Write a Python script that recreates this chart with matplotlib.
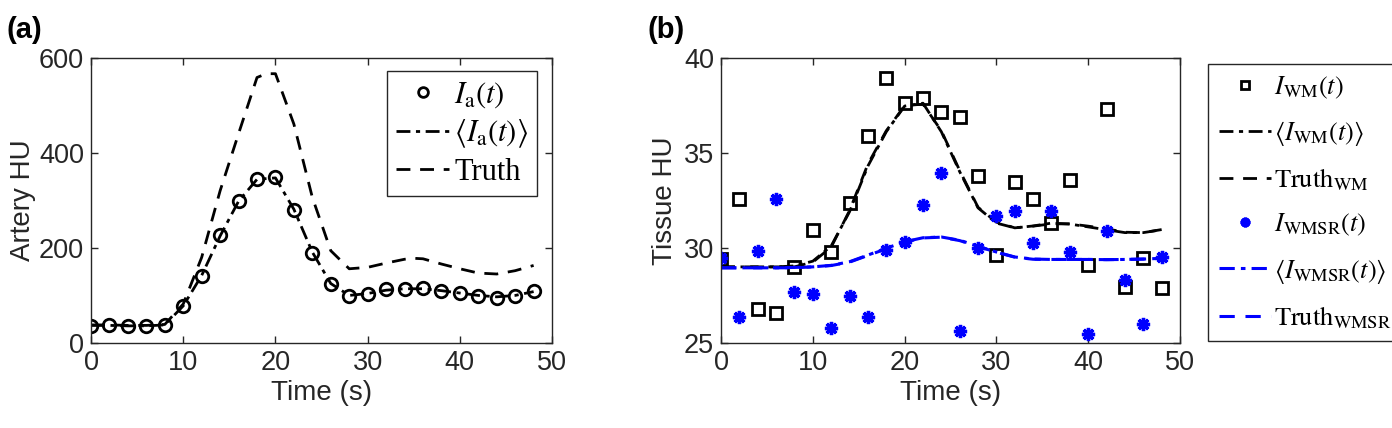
import matplotlib
matplotlib.use("Agg")
import matplotlib.pyplot as plt
import numpy as np

plt.rcParams['font.family'] = ['Liberation Sans', 'DejaVu Sans']
plt.rcParams['mathtext.fontset'] = 'stix'

# ---------------- data ----------------
t = [0, 2, 4, 6, 8, 10, 12, 14, 16, 18, 20, 22, 24, 26, 28, 30, 32, 34, 36, 38, 40, 42, 44, 46, 48]

artery_obs = [36, 38, 35, 36, 38, 78, 140, 226, 299, 345, 348, 280, 190, 124, 98, 103, 113, 113, 116, 109, 106, 99, 95, 99, 110]
artery_mean = [37, 37, 36, 36, 38, 78, 142, 225, 298, 344, 347, 281, 191, 125, 100, 104, 111, 114, 114, 110, 105, 100, 97, 100, 108]
artery_truth_t = [0, 2, 4, 6, 8, 10, 12, 14, 16, 18, 19, 20, 22, 24, 26, 28, 30, 32, 34, 35, 36, 38, 40, 42, 44, 46, 48]
artery_truth = [38, 38, 37, 37, 39, 82, 180, 320, 440, 558, 566, 566, 460, 306, 194, 156, 159, 168, 176, 178, 177, 166, 156, 147, 145, 152, 163]

wm_obs = [29.4, 32.55, 26.8, 26.6, 29.0, 30.95, 29.76, 32.34, 35.87, 38.92, 37.62, 37.85, 37.15,
          36.87, 33.8, 29.63, 33.46, 32.59, 31.33, 33.57, 29.09, 37.27, 27.92, 29.44, 27.88]
wm_mean = [29.0, 29.0, 29.0, 29.0, 29.05, 29.3, 30.1, 31.9, 34.3, 36.1, 37.45, 37.6, 36.1,
           34.0, 32.1, 31.3, 31.05, 31.15, 31.3, 31.25, 31.1, 30.95, 30.8, 30.8, 30.95]
wm_truth = [29.0, 29.0, 29.0, 29.0, 29.0, 29.25, 30.04, 31.96, 34.4, 36.15, 37.47, 37.55, 36.15,
            34.06, 32.13, 31.35, 31.05, 31.14, 31.26, 31.26, 31.14, 31.0, 30.82, 30.8, 30.96]

wmsr_obs = [29.48, 26.36, 29.83, 32.59, 27.69, 27.57, 25.8, 27.46, 26.38, 29.9, 30.31, 32.26, 33.93,
            25.61, 30.0, 31.66, 31.92, 30.24, 31.92, 29.76, 25.49, 30.89, 28.32, 25.98, 29.51]
wmsr_mean = [28.95, 28.95, 28.95, 28.95, 28.97, 29.0, 29.08, 29.27, 29.62, 29.98, 30.32, 30.53, 30.57,
             30.4, 30.08, 29.78, 29.52, 29.41, 29.39, 29.39, 29.39, 29.38, 29.39, 29.41, 29.45]
wmsr_truth = [28.95, 28.95, 28.95, 28.95, 28.95, 29.0, 29.07, 29.25, 29.6, 29.95, 30.3, 30.52, 30.56,
              30.38, 30.07, 29.77, 29.51, 29.4, 29.39, 29.39, 29.39, 29.38, 29.39, 29.41, 29.44]

xticks = [0, 10, 20, 30, 40, 50]
yticks_a = [0, 200, 400, 600]
yticks_b = [25, 30, 35, 40]

# ---------------- figure ----------------
fig = plt.figure(figsize=(13.92, 4.28), dpi=100)
ax1 = fig.add_axes([0.0654, 0.1986, 0.3312, 0.667])
ax2 = fig.add_axes([0.518, 0.1986, 0.3297, 0.667])

tick_fs = 19.5
label_fs = 20
spine_c = '#262626'
dashdot = (0, (5, 2, 1.5, 2))
dashed = (0, (5, 3.5))

for ax in (ax1, ax2):
    ax.tick_params(direction='in', top=True, right=True, labelsize=tick_fs,
                   colors=spine_c, length=5, width=1, pad=5)
    for s in ax.spines.values():
        s.set_color(spine_c)
        s.set_linewidth(1)
    ax.set_xlim(0, 50)
    ax.set_xticks(xticks)
    ax.set_xlabel('Time (s)', fontsize=label_fs, color=spine_c, labelpad=3)

# Panel (a)
h1, = ax1.plot(t, artery_obs, linestyle='none', marker='o', ms=9, mfc='none',
               mec='black', mew=2)
h2, = ax1.plot(t, artery_mean, color='black', lw=2, linestyle=dashdot)
h3, = ax1.plot(artery_truth_t, artery_truth, color='black', lw=2, linestyle=dashed)
ax1.set_ylim(0, 600)
ax1.set_yticks(yticks_a)
ax1.set_ylabel('Artery HU', fontsize=label_fs, color=spine_c, labelpad=2)
leg1 = ax1.legend([h1, h2, h3], [r'$I_{\mathrm{a}}(t)$', r'$\langle I_{\mathrm{a}}(t)\rangle$', 'Truth'],
                  loc='upper right', bbox_to_anchor=(0.9675, 0.952),
                  prop={'family': 'Liberation Serif', 'size': 22},
                  fancybox=False, edgecolor=spine_c, framealpha=1, handlelength=1.75,
                  handletextpad=0.15, borderpad=0.3, labelspacing=0.25, borderaxespad=0)
leg1.get_frame().set_linewidth(1)

# Panel (b)
g1, = ax2.plot(t, wm_obs, linestyle='none', marker='s', ms=8, mfc='none', mec='black', mew=2)
g2, = ax2.plot(t, wm_mean, color='black', lw=2, linestyle=dashdot)
g3, = ax2.plot(t, wm_truth, color='black', lw=2, linestyle=dashed)
g4, = ax2.plot(t, wmsr_obs, linestyle='none', marker=(8, 2, 0), ms=9.5, mfc='blue', mec='blue', mew=2.4)
g5, = ax2.plot(t, wmsr_mean, color='blue', lw=2.2, linestyle=dashdot)
g6, = ax2.plot(t, wmsr_truth, color='blue', lw=2.2, linestyle=dashed)
ax2.set_ylim(25, 40)
ax2.set_yticks(yticks_b)
ax2.set_ylabel('Tissue HU', fontsize=label_fs, color=spine_c, labelpad=4)

labels2 = [r'$I_{\mathrm{WM}}(t)$', r'$\langle I_{\mathrm{WM}}(t)\rangle$', r'$\mathrm{Truth}_{\mathrm{WM}}$',
           r'$I_{\mathrm{WMSR}}(t)$', r'$\langle I_{\mathrm{WMSR}}(t)\rangle$', r'$\mathrm{Truth}_{\mathrm{WMSR}}$']
leg2 = fig.legend([g1, g2, g3, g4, g5, g6], labels2, loc='upper left',
                  bbox_to_anchor=(0.8678, 0.8505), bbox_transform=fig.transFigure,
                  prop={'family': 'Liberation Serif', 'size': 19},
                  fancybox=False, edgecolor=spine_c, framealpha=1, handlelength=2.0,
                  handletextpad=0.1, borderpad=0.4, labelspacing=0.7, borderaxespad=0)
leg2.get_frame().set_linewidth(1)
leg2.legend_handles[0].set_markersize(6)
leg2.legend_handles[3].set_markersize(7)
leg1.legend_handles[0].set_markersize(7)

fig.text(0.005, 0.912, '(a)', fontsize=21, fontweight='bold', color='black')
fig.text(0.465, 0.912, '(b)', fontsize=21, fontweight='bold', color='black')

fig.savefig('out.png', dpi=100)
